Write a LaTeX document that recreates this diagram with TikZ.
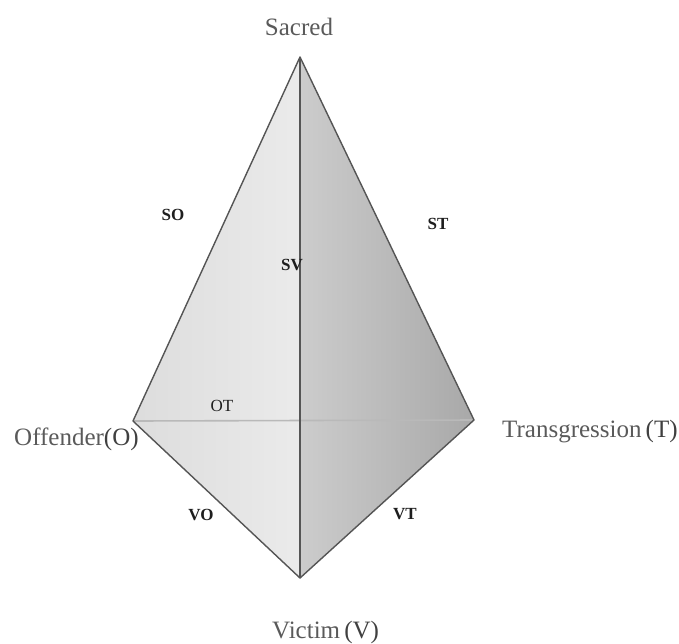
\documentclass[tikz,border=0pt]{standalone}
\usepackage{fontspec}
\setmainfont{Liberation Serif}
\definecolor{edgecol}{HTML}{555555}
\definecolor{txtcol}{HTML}{5A5A5A}
\definecolor{lblcol}{HTML}{1E1E1E}
\begin{document}
\begin{tikzpicture}[x=1pt,y=-1pt,
  vlabel/.style={text=txtcol,font=\fontsize{25}{28}\selectfont,inner sep=0pt},
  elabel/.style={text=lblcol,font=\fontsize{17}{19}\selectfont\bfseries,inner sep=0pt},
  elabelr/.style={text=lblcol,font=\fontsize{17}{19}\selectfont,inner sep=0pt},
  edge/.style={draw=edgecol,line width=1.4pt,line join=round},
  backedge/.style={draw=gray!55,line width=1.6pt}]
\useasboundingbox (0,0) rectangle (679,643);
% vertices
\coordinate (S) at (300,57);
\coordinate (O) at (133,421);
\coordinate (T) at (474,420);
\coordinate (V) at (300,578);
% faces
\fill[left color=gray!27,right color=gray!16] (S) -- (O) -- (V) -- cycle;
\fill[left color=gray!40,right color=gray!68] (S) -- (T) -- (V) -- cycle;
% hidden edge O-T
\draw[backedge] (O) -- (T);
% visible edges
\draw[edge] (S) -- (O) -- (V) -- (T) -- cycle;
\draw[edge] (S) -- (V);
% vertex labels
\node[vlabel] (lS) at (299,27) {Sacred};
\node[vlabel,anchor=base west] (lO) at (14,445) {Offender\textcolor{black!75}{(O)}};
\node[vlabel,anchor=base west] (lT) at (502,437) {Transgression\,\textcolor{black!75}{(T)}};
\node[vlabel,anchor=base west] (lV) at (272,638) {Victim\,\textcolor{black!75}{(V)}};
% edge labels
\node[elabel] (lSO) at (173,215) {SO};
\node[elabel] (lST) at (438,224) {ST};
\node[elabel] (lSV) at (292,265) {SV};
\node[elabelr] (lOT) at (222,406) {OT};
\node[elabel] (lVO) at (201,515) {VO};
\node[elabel] (lVT) at (405,514) {VT};
\end{tikzpicture}
\end{document}
